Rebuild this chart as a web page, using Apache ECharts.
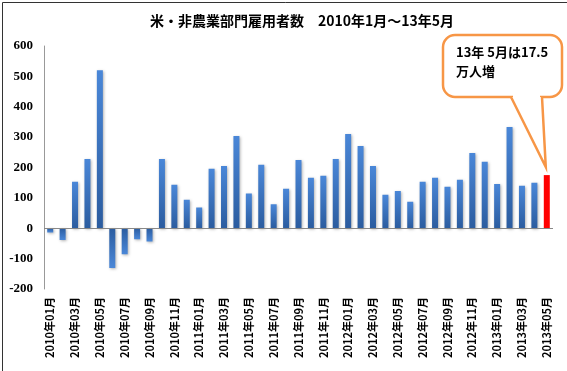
<!DOCTYPE html>
<html><head><meta charset="utf-8">
<script src="https://cdn.jsdelivr.net/npm/echarts@6/dist/echarts.min.js"></script>
<style>html,body{margin:0;padding:0;background:#fff}#c{width:567px;height:371px}</style>
</head><body><div id="c"></div>
<script>
const years = ['2010','2011','2012','2013'];
const months = ['01','02','03','04','05','06','07','08','09','10','11','12'];
const categories = [];
years.forEach(y => months.forEach(m => { if (!(y === '2013' && +m > 5)) categories.push(y + '年' + m + '月'); }));
const values2010 = [-14, -39, 153, 228, 520, -131, -86, -36, -44, 228, 143, 94];
const values2011 = [68, 196, 205, 304, 114, 209, 79, 130, 225, 166, 173, 228];
const values2012 = [310, 271, 205, 110, 123, 87, 153, 166, 137, 160, 248, 219];
const values2013 = [146, 333, 140, 150, 175];
const values = values2010.concat(values2011, values2012, values2013);
const yTicks = [-200, -100, 0, 100, 200, 300, 400, 500, 600];
const titleText = '米・非農業部門雇用者数　2010年1月～13年5月';
const calloutText = '13年 5月は17.5\n万人増';

const data = values.map((v, i) => i === values.length - 1
  ? {value: v, itemStyle: {color: '#ff0000', shadowBlur: 0, shadowOffsetX: 0, shadowOffsetY: 0}}
  : {value: v, itemStyle: {color: new echarts.graphic.LinearGradient(0, v >= 0 ? 0 : 1, 0, v >= 0 ? 1 : 0, [
      {offset: 0, color: '#4a87d8'}, {offset: 1, color: '#2b5c9f'}])}});

const chart = echarts.init(document.getElementById('c'), null, {renderer: 'canvas'});
chart.setOption({
  animation: false,
  title: {text: titleText, left: 297, top: 9, textAlign: 'center',
    textStyle: {fontSize: 14, fontWeight: 'bold', color: '#000', fontFamily: 'Noto Sans CJK JP'}},
  grid: {left: 44, right: 14, top: 46, bottom: 82},
  xAxis: {type: 'category', data: categories,
    axisLine: {show: false}, axisTick: {show: false},
    axisLabel: {interval: 1, rotate: 90, margin: 8, fontSize: 11, fontWeight: 'bold', color: '#000',
      fontFamily: 'Noto Sans CJK JP'}},
  yAxis: {type: 'value', min: yTicks[0], max: yTicks[yTicks.length - 1], interval: 100,
    axisLine: {show: true, lineStyle: {color: '#999', width: 1}},
    axisTick: {show: false}, splitLine: {show: false},
    axisLabel: {fontSize: 13, fontWeight: 'bold', color: '#000', fontFamily: 'Liberation Serif', margin: 11}},
  series: [{type: 'bar', data: data, barWidth: 6,
    itemStyle: {shadowColor: 'rgba(0,0,0,0.3)', shadowBlur: 3, shadowOffsetX: 1, shadowOffsetY: 1},
    markLine: {silent: true, symbol: 'none', label: {show: false},
      lineStyle: {color: '#888', type: 'solid', width: 1},
      data: [{yAxis: 0}]}}]
});

const last = values.length - 1;
const tip = chart.convertToPixel({seriesIndex: 0}, [last, values[last]]);
const bx = 443, by = 35, bw = 119, bh = 62;
chart.setOption({graphic: [
  {type: 'rect', left: 0, top: 0, shape: {x: 0.5, y: 0.5, width: 566, height: 370},
    style: {fill: 'none', stroke: '#333', lineWidth: 1}, silent: true, z: 100},
  {type: 'polyline', shape: {points: [[bx + 68, by + bh], [tip[0] - 1, tip[1] - 8], [bx + 99, by + bh]]},
    style: {fill: '#fff', stroke: '#f79646', lineWidth: 2.5}, z: 101},
  {type: 'rect', shape: {x: bx, y: by, width: bw, height: bh, r: 12},
    style: {fill: '#fff', stroke: '#f79646', lineWidth: 2.5}, z: 100},
  {type: 'rect', shape: {x: bx + 70, y: by + bh - 6, width: 27, height: 7},
    style: {fill: '#fff'}, z: 102},
  {type: 'text', x: bx + 13, y: by + 8, style: {text: calloutText, fontSize: 13, fontWeight: 'bold',
    fill: '#000', lineHeight: 19, fontFamily: 'Noto Sans CJK JP'}, z: 103}
]});
</script></body></html>
